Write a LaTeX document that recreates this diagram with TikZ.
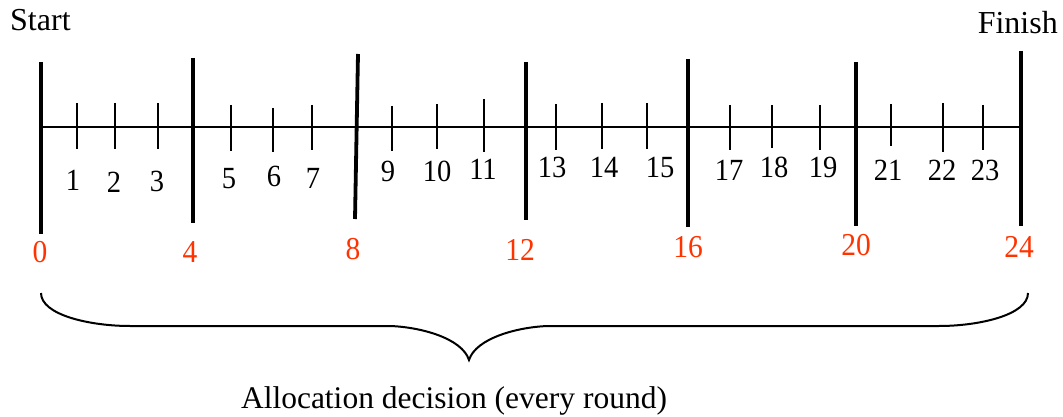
\documentclass[tikz,border=0pt]{standalone}
\usepackage{fontspec}
\setmainfont{Liberation Serif}
\definecolor{marker}{RGB}{255,51,0}
\newcommand{\tallnum}[1]{\scalebox{1}[1.08]{#1}}
\begin{document}
\begin{tikzpicture}[x=1pt,y=-1pt,
  axis/.style={line width=1.8pt},
  major/.style={line width=3.8pt},
  minor/.style={line width=1.5pt},
  sublabel/.style={anchor=base,inner sep=0pt,font=\fontsize{28.5}{34}\selectfont},
  roundlabel/.style={anchor=base,inner sep=0pt,text=marker,font=\fontsize{29.5}{36}\selectfont},
  endlabel/.style={inner sep=0pt,font=\fontsize{32}{38}\selectfont},
  bracepath/.style={line width=2pt}]
\useasboundingbox (0,0) rectangle (1063,417);

% time axis
\coordinate (a0) at (40,127);
\coordinate (a24) at (1020,127);
\draw[axis] (a0) -- (a24);

% round boundaries
\draw[major] (41,62) -- (41,234);
\draw[major] (193,58) -- (193,223);
\draw[major] (358,54) -- (355,219);
\draw[major] (526,62) -- (526,220);
\draw[major] (688,59) -- (688,227);
\draw[major] (856,62) -- (856,226);
\draw[major] (1021,51) -- (1021,226);

% intermediate steps
\foreach \x/\t/\b in {77/103/149,115/103/149,158/103/149,
                      231/105/151,273/108/152,312/105/150,
                      392/106/151,437/104/149,484/99/152,
                      556/104/150,602/103/149,647/103/149,
                      730/105/150,772/105/148,820/105/150,
                      891/104/146,943/103/152,983/105/150}
  \draw[minor] (\x,\t) -- (\x,\b);

% step numbers
\foreach \n/\x/\y in {1/73/190,2/114/192,3/157/191,
                      5/229/188,6/274/186,7/313/188,
                      9/388/182,10/437/182,11/483/179,
                      13/552/177,14/604/177,15/660/177,
                      17/729/180,18/774/178,19/823/178,
                      21/888/180,22/942/180,23/985/180}
  \node[sublabel] (s\n) at (\x,\y) {\tallnum{\n}};

% boundary numbers
\foreach \n/\x/\y in {0/40/262,4/190/262,8/353/259,12/520/260,
                      16/688/257,20/856/255,24/1019/257}
  \node[roundlabel] (r\n) at (\x,\y) {\tallnum{\n}};

\node[endlabel,anchor=base west] (start) at (10,31) {Start};
\node[endlabel,anchor=base east] (finish) at (1058,34) {Finish};

% brace spanning all rounds
\coordinate (bl) at (41,293);
\coordinate (br) at (1028,293);
\coordinate (tip) at (469,360);
\draw[bracepath] (bl) .. controls (41,315) and (90,326) .. (130,326)
  -- (390,326) .. controls (420,327) and (462,338) .. (tip)
  .. controls (476,338) and (518,327) .. (548,326)
  -- (939,326) .. controls (979,326) and (1028,315) .. (br);

\node[anchor=base,inner sep=0pt,font=\fontsize{31.5}{37}\selectfont] (caption) at (454,408) {Allocation decision (every round)};
\end{tikzpicture}
\end{document}
